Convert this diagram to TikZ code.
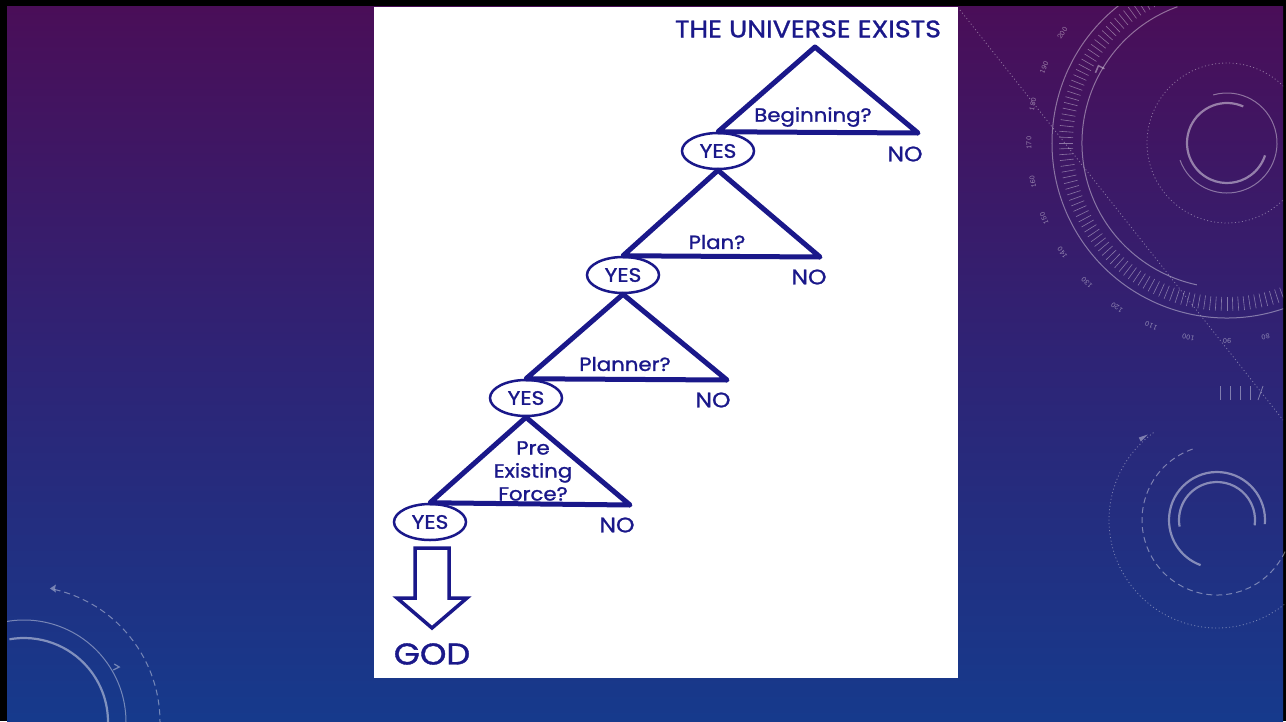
\documentclass[tikz,border=0pt]{standalone}
\usepackage{fontspec}
\setmainfont{Poppins}[FakeStretch=1.12,FakeBold=1.2]
\usetikzlibrary{arrows.meta,shapes.geometric,calc}
\definecolor{navy}{RGB}{26,24,138}
\definecolor{bgtop}{RGB}{74,14,88}
\definecolor{bgmid}{RGB}{46,36,118}
\definecolor{bgbot}{RGB}{22,58,140}
\begin{document}
\begin{tikzpicture}[x=1pt,y=-1pt,
  tri/.style={draw=navy,line width=5pt,line join=round},
  yesnode/.style={ellipse,draw=navy,line width=2.5pt,minimum width=72pt,minimum height=36pt,inner sep=0pt,text=navy,font=\fontsize{19.5}{20}\selectfont},
  nonode/.style={text=navy,inner sep=0pt,font=\fontsize{21}{21}\selectfont},
  qnode/.style={text=navy,inner sep=0pt,align=center,font=\fontsize{19}{23}\selectfont},
  bignode/.style={text=navy,inner sep=0pt,font=\fontsize{24}{24}\selectfont},
  deco/.style={draw=white,draw opacity=0.4,line width=1pt},
  decothick/.style={draw=white,draw opacity=0.45,line width=2.2pt},
  decodot/.style={draw=white,draw opacity=0.4,line width=0.8pt,dash pattern=on 1pt off 2.5pt},
  decodash/.style={draw=white,draw opacity=0.4,line width=1pt,dash pattern=on 6pt off 4pt},
  numlab/.style={text=white,text opacity=0.45,inner sep=0pt,font=\ttfamily\fontsize{8}{8}\selectfont}]
\useasboundingbox (0,0) rectangle (1286,721);
% frame and background
\fill[black] (0,0) rectangle (1286,721);
\shade[top color=bgtop,bottom color=bgbot,middle color=bgmid] (7,6) rectangle (1283,721);
% right-top decoration
\begin{scope}
\clip (958,6) rectangle (1283,721);
\coordinate (C1) at (1227,143);
\draw[decothick] ($(C1)+(66:40pt)$) arc[start angle=66,end angle=342,radius=40pt];
\draw[deco] ($(C1)+(106:50pt)$) arc[start angle=106,end angle=-160,radius=50pt];
\draw[decodot] (C1) circle[radius=80pt];
\draw[deco] ($(C1)+(110:145pt)$) arc[start angle=110,end angle=258,radius=145pt];
\draw[deco] ($(C1)+(127:175pt)$) arc[start angle=127,end angle=290,radius=175pt];
\foreach \a in {96,98,...,300} {\draw[deco,line width=0.6pt] ($(C1)+(\a:154pt)$) -- ($(C1)+(\a:168pt)$);}
\foreach \v in {200,190,...,80} {
  \pgfmathsetmacro{\ang}{180+(170-\v)*1.125}
  \node[numlab,rotate=\ang-90] at ($(C1)+(\ang:198pt)$) {\v};}
\draw[deco,line width=1.5pt] ($(C1)+(149:150pt)+(-3pt,-7pt)$) -- ($(C1)+(149:150pt)$) -- ($(C1)+(149:150pt)+(6pt,-3pt)$);
\draw[decodot] (960,10) -- (1283,420);
\end{scope}
% right-bottom decoration
\coordinate (C2) at (1217,520);
\draw[decothick] ($(C2)+(-5:48pt)$) arc[start angle=-5,end angle=250,radius=48pt];
\draw[decothick] ($(C2)+(190:38pt)$) arc[start angle=190,end angle=-8,radius=38pt];
\draw[decodash] ($(C2)+(109:75pt)$) arc[start angle=109,end angle=338,radius=75pt];
\draw[decodot] ($(C2)+(126:108pt)$) arc[start angle=126,end angle=312,radius=108pt];
\fill[white,fill opacity=0.4] ($(C2)+(129:110pt)$) -- ++(-9pt,-3pt) -- ++(2pt,-4pt) -- cycle;
\foreach \xx in {1220,1230,1240,1250} {\draw[deco,line width=0.8pt] (\xx,386) -- (\xx,400);}
\draw[deco,line width=0.8pt] (1258,400) -- (1263,386);
% left-bottom decoration
\begin{scope}
\clip (7,540) rectangle (300,721);
\coordinate (C3) at (24,722);
\draw[decothick] ($(C3)+(100:84pt)$) arc[start angle=100,end angle=0,radius=84pt];
\draw[deco] ($(C3)+(100:102pt)$) arc[start angle=100,end angle=0,radius=102pt];
\draw[decodash] ($(C3)+(77:136pt)$) arc[start angle=77,end angle=-5,radius=136pt];
\fill[white,fill opacity=0.4] ($(C3)+(79:136pt)$) -- ++(6pt,4pt) -- ++(-1pt,-4pt) -- ++(1pt,-4pt) -- cycle;
\draw[deco,line width=1.2pt] ($(C3)+(30:110pt)+(-5pt,3pt)$) -- ($(C3)+(30:110pt)$) -- ($(C3)+(30:110pt)+(-6pt,-3pt)$);
\end{scope}
% white panel
\fill[white] (374,7) rectangle (958,678);
% diagram
\node[bignode] (title) at (808,29) {THE UNIVERSE EXISTS};
\coordinate (a1) at (815,47);
\node[yesnode] (y1) at (718,151) {YES};
\node[yesnode] (y2) at (623,275) {YES};
\node[yesnode] (y3) at (526,398) {YES};
\node[yesnode] (y4) at (430,522) {YES};
\coordinate (r1) at (918,133);
\coordinate (r2) at (820,257);
\coordinate (r3) at (727,380);
\coordinate (r4) at (630,505);
\draw[tri] (a1) -- (y1.north) -- (r1) -- cycle;
\draw[tri] (y1.south) -- (y2.north) -- (r2) -- cycle;
\draw[tri] (y2.south) -- (y3.north) -- (r3) -- cycle;
\draw[tri] (y3.south) -- (y4.north) -- (r4) -- cycle;
\node[qnode] (q1) at (813,117) {Beginning?};
\node[qnode] (q2) at (717,242) {Plan?};
\node[qnode] (q3) at (625,364) {Planner?};
\node[qnode] (q4) at (533,471) {Pre\\Existing\\Force?};
\node[nonode] (n1) at (905,154) {NO};
\node[nonode] (n2) at (809,277) {NO};
\node[nonode] (n3) at (713,400) {NO};
\node[nonode] (n4) at (617,525) {NO};
\node[text=navy,inner sep=0pt,font=\fontsize{30}{30}\selectfont] (god) at (432,654) {GOD};
\coordinate (ar) at (432,548);
\draw[navy,line width=3.5pt,line join=miter] ($(ar)+(-17,0)$) -- ($(ar)+(17,0)$) -- ($(ar)+(17,50)$) -- ($(ar)+(35,50)$) -- ($(ar)+(0,80)$) -- ($(ar)+(-35,50)$) -- ($(ar)+(-17,50)$) -- cycle;
\end{tikzpicture}
\end{document}
